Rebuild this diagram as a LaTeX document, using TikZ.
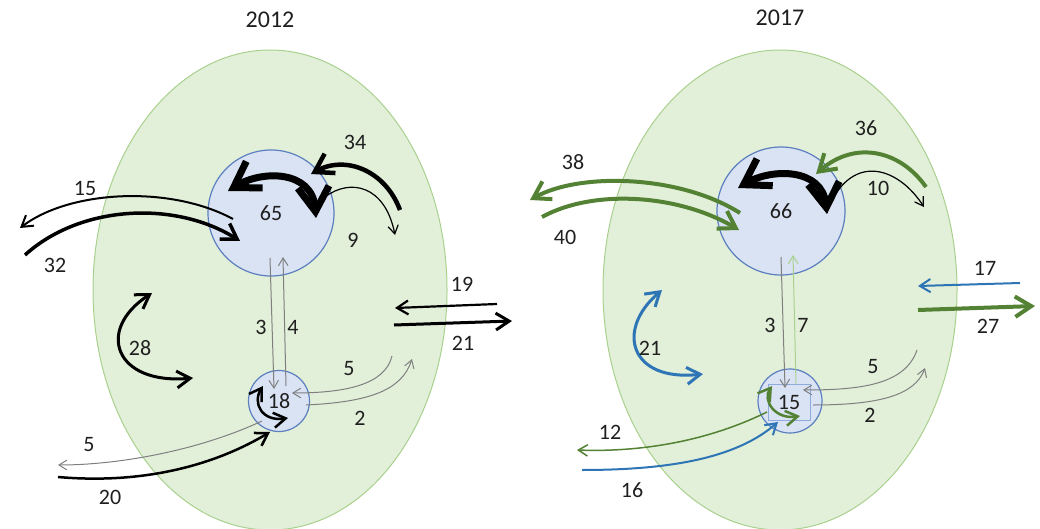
\documentclass[tikz,border=0pt]{standalone}
\usepackage{fontspec}
\setmainfont{Carlito}
\usepackage{tikz}
\usetikzlibrary{arrows.meta}

\definecolor{cellfill}{HTML}{E2EFD9}
\definecolor{cellline}{HTML}{A9D18E}
\definecolor{poolfill}{HTML}{DAE3F3}
\definecolor{poolline}{HTML}{5B7FBF}
\definecolor{boxline}{HTML}{8FAADC}
\definecolor{flowgray}{HTML}{7F7F7F}
\definecolor{flowgreen}{HTML}{548235}
\definecolor{flowlight}{HTML}{A9D18E}
\definecolor{flowblue}{HTML}{2E75B6}
\definecolor{labeltext}{HTML}{1F1F1F}

\begin{document}
\begin{tikzpicture}[x=1pt,y=-1pt,>={Straight Barb[length=5pt 2.8,width=6pt 3.6]},
  cell/.style={draw=cellline,fill=cellfill,line width=1pt},
  pool node/.style={circle,draw=poolline,fill=poolfill,line width=1.2pt,inner sep=0pt,
    text=labeltext,font=\fontsize{22}{25}\selectfont},
  lbl/.style={text=labeltext,font=\fontsize{22}{25}\selectfont},
  title/.style={text=labeltext,font=\fontsize{24}{27}\selectfont},
  minor/.style={->,draw=flowgray,line width=1pt}]

  \useasboundingbox (0,0) rectangle (1040,529);

  % cells
  \draw[cell] (270,290) ellipse [x radius=177,y radius=240];
  \draw[cell] (780,290) ellipse [x radius=177,y radius=240];

  \node[title] (y2012) at (270,20) {2012};
  \node[title] (y2017) at (780,18) {2017};

  % pools
  \node[pool node,minimum size=126pt] (p65) at (271,213) {65};
  \node[pool node,minimum size=61pt] (p18) at (279,401) {18};
  \node[pool node,minimum size=128pt] (p66) at (781,211) {66};
  \node[pool node,minimum size=64pt] (p15) at (790,401) {};
  \node[draw=boxline,fill=poolfill,line width=0.8pt,minimum width=42pt,minimum height=36pt,
    text=labeltext,font=\fontsize{22}{25}\selectfont] (b15) at (789,402) {15};

  % connector ends
  \foreach \n/\x/\y in {a1/233/219, a2/20/228, b1/25/255, b2/240/241, c1/228/191, c2/316/218,
      d1/400/210, d2/311/174, e1/325/197, e2/395/235, f1/270/258, f2/274/389,
      g1/286/386, g2/283/257, h1/497/304, h2/395/308, i1/394/325, i2/512/321,
      j1/152/293, j2/193/378, k1/392/356, k2/292/393, m1/306/405, m2/412/359,
      n1/263/386, n2/288/418, q1/262/421, q2/58/465, r1/58/477, r2/270/432,
      A1/740/213, A2/530/200, B1/542/217, B2/739/230, C1/738/188, C2/827/214,
      D1/926/187, D2/816/174, E1/835/195, E2/924/207, F1/1020/283, F2/918/286,
      G1/918/310, G2/1035/306, H1/662/290, H2/703/374, I1/781/257, I2/785/388,
      J1/796/384, J2/793/255, K1/917/350, K2/803/390, L1/813/405, L2/925/368,
      M1/772/386, M2/800/416, N1/767/412, N2/577/450, O1/582/470, O2/778/422}
    \coordinate (\n) at (\x,\y);

  % 2012 flows
  \draw[->,line width=2pt] (a1) .. controls (170,185) and (70,190) .. (a2);
  \draw[->,line width=3.5pt] (b1) .. controls (80,205) and (175,200) .. (b2);
  \draw[<->,line width=7pt] (c1) .. controls (262,170) and (312,170) .. (c2);
  \draw[->,line width=4.5pt] (d1) .. controls (385,170) and (345,155) .. (d2);
  \draw[->,line width=1.2pt] (e1) .. controls (350,178) and (385,185) .. (e2);
  \draw[minor] (f1) -- (f2);
  \draw[minor] (g1) -- (g2);
  \draw[->,line width=2.2pt] (h1) -- (h2);
  \draw[->,line width=3pt] (i1) -- (i2);
  \draw[<->,line width=3pt] (j1) .. controls (95,330) and (115,385) .. (j2);
  \draw[minor] (k1) .. controls (385,385) and (345,393) .. (k2);
  \draw[minor] (m1) .. controls (370,402) and (402,390) .. (m2);
  \draw[<->,line width=2.5pt] (n1) .. controls (252,403) and (262,422) .. (n2);
  \draw[minor] (q1) .. controls (200,450) and (120,465) .. (q2);
  \draw[->,line width=2.5pt] (r1) .. controls (150,485) and (220,462) .. (r2);

  % 2017 flows
  \draw[->,flowgreen,line width=4pt] (A1) .. controls (680,175) and (580,172) .. (A2);
  \draw[->,flowgreen,line width=4pt] (B1) .. controls (595,188) and (680,195) .. (B2);
  \draw[<->,line width=7pt] (C1) .. controls (772,168) and (822,168) .. (C2);
  \draw[->,flowgreen,line width=4pt] (D1) .. controls (900,150) and (855,140) .. (D2);
  \draw[->,line width=1.2pt] (E1) .. controls (860,155) and (900,170) .. (E2);
  \draw[->,flowblue,line width=2pt] (F1) -- (F2);
  \draw[->,flowgreen,line width=4pt] (G1) -- (G2);
  \draw[<->,flowblue,line width=3pt] (H1) .. controls (615,330) and (630,382) .. (H2);
  \draw[minor] (I1) -- (I2);
  \draw[minor,draw=flowlight] (J1) -- (J2);
  \draw[minor] (K1) .. controls (905,385) and (860,390) .. (K2);
  \draw[minor] (L1) .. controls (880,405) and (915,395) .. (L2);
  \draw[<->,flowgreen,line width=2.5pt] (M1) .. controls (762,400) and (775,420) .. (M2);
  \draw[->,flowgreen,line width=1.5pt] (N1) .. controls (700,445) and (630,452) .. (N2);
  \draw[->,flowblue,line width=2pt] (O1) .. controls (680,470) and (740,455) .. (O2);

  % flow values
  \foreach \n/\x/\y/\t in {v34/355/142/34, v15/85/188/15, v32/55/265/32, v9/353/240/9,
      v19/462/284/19, v21/463/343/21, v28/140/348/28, v3/261/327/3, v4/293/327/4,
      v5/349/369/5, v2/360/418/2, v5b/89/445/5, v20/110/497/20,
      w36/866/128/36, w38/573/162/38, w40/565/237/40, w10/878/188/10,
      w17/985/268/17, w27/988/326/27, w21/650/348/21, w3/770/325/3, w7/803/325/7,
      w5/873/367/5, w2/870/415/2, w12/610/432/12, w16/632/490/16}
    \node[lbl] (\n) at (\x,\y) {\t};
\end{tikzpicture}
\end{document}
